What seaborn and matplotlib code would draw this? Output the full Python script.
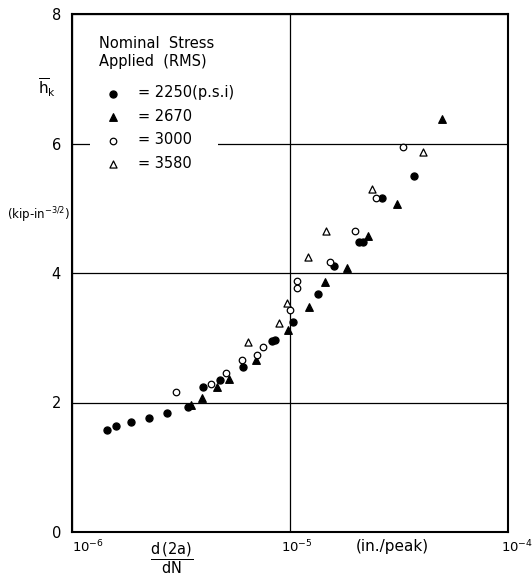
import numpy as np
import pandas as pd
import matplotlib
matplotlib.use("Agg")
import matplotlib.pyplot as plt
import matplotlib.transforms as mtransforms
from matplotlib.patches import Rectangle
import seaborn as sns

# ---------------- data ----------------
stress_labels = ["= 2250(p.s.i)", "= 2670", "= 3000", "= 3580"]
legend_title = "Nominal  Stress\nApplied  (RMS)"

rate_2250 = [1.45e-6, 1.60e-6, 1.86e-6, 2.26e-6, 2.72e-6, 3.39e-6, 4.00e-6, 4.79e-6,
             6.09e-6, 8.27e-6, 8.56e-6, 1.03e-5, 1.34e-5, 1.59e-5, 2.07e-5, 2.16e-5,
             2.64e-5, 3.72e-5]
hk_2250 = [1.575, 1.637, 1.694, 1.756, 1.842, 1.926, 2.235, 2.347,
           2.548, 2.950, 2.965, 3.248, 3.676, 4.113, 4.474, 4.483,
           5.163, 5.498]

rate_2670 = [3.51e-6, 3.94e-6, 4.62e-6, 5.25e-6, 6.98e-6, 9.76e-6, 1.226e-5, 1.447e-5,
             1.82e-5, 2.27e-5, 3.09e-5, 4.96e-5]
hk_2670 = [1.961, 2.077, 2.247, 2.358, 2.652, 3.127, 3.475, 3.861,
           4.077, 4.571, 5.058, 6.374]

rate_3000 = [2.99e-6, 4.32e-6, 5.07e-6, 6.03e-6, 7.03e-6, 7.54e-6, 1.005e-5, 1.08e-5,
             1.08e-5, 1.53e-5, 1.99e-5, 2.48e-5, 3.31e-5]
hk_3000 = [2.158, 2.283, 2.460, 2.664, 2.726, 2.853, 3.421, 3.869,
           3.761, 4.170, 4.656, 5.163, 5.951]

rate_3580 = [6.40e-6, 8.93e-6, 9.69e-6, 1.207e-5, 1.47e-5, 2.38e-5, 4.09e-5]
hk_3580 = [2.939, 3.232, 3.541, 4.244, 4.649, 5.293, 5.873]

x_ticks = [1e-6, 1e-5, 1e-4]
x_ticklabels = [r"$10^{-6}$", r"$10^{-5}$", r"$10^{-4}$"]
y_ticks = [0, 2, 4, 6, 8]
y_ticklabels = ["0", "2", "4", "6", "8"]

# ---------------- build table ----------------
frames = []
for lbl, xs, ys in zip(stress_labels,
                       [rate_2250, rate_2670, rate_3000, rate_3580],
                       [hk_2250, hk_2670, hk_3000, hk_3580]):
    frames.append(pd.DataFrame({"rate": xs, "hk": ys, "stress": lbl}))
df = pd.concat(frames, ignore_index=True)

marker_map = {stress_labels[0]: "o", stress_labels[1]: "^",
              stress_labels[2]: "o", stress_labels[3]: "^"}
face_map = {stress_labels[0]: "black", stress_labels[1]: "black",
            stress_labels[2]: "white", stress_labels[3]: "white"}
size_map = {stress_labels[0]: 26, stress_labels[1]: 30,
            stress_labels[2]: 22, stress_labels[3]: 26}

# ---------------- style ----------------
sns.set_style("white")
plt.rcParams["font.family"] = ["DejaVu Sans"]
plt.rcParams["mathtext.fontset"] = "dejavusans"
plt.rcParams["text.color"] = "black"
plt.rcParams["xtick.color"] = "black"
plt.rcParams["ytick.color"] = "black"
plt.rcParams["axes.labelcolor"] = "black"

W, H = 532, 578
fig = plt.figure(figsize=(W / 100, H / 100), dpi=100)
ax = fig.add_axes([72 / W, 46 / H, 436 / W, 518 / H])

for lbl in stress_labels:
    sub = df[df["stress"] == lbl]
    sns.scatterplot(data=sub, x="rate", y="hk", ax=ax,
                    marker=marker_map[lbl], color=face_map[lbl],
                    edgecolor="black", linewidth=0.9, s=size_map[lbl],
                    label=lbl, zorder=3)

ax.set_xscale("log")
ax.set_xlim(1e-6, 1e-4)
ax.set_ylim(0, 8)
ax.set_xticks(x_ticks)
ax.set_xticklabels(x_ticklabels, fontsize=9.5, color="black")
ax.xaxis.set_minor_locator(matplotlib.ticker.NullLocator())
ax.set_yticks(y_ticks)
ax.set_yticklabels(y_ticklabels, fontsize=10.5, color="black")
ax.tick_params(axis="both", length=0)
ax.tick_params(axis="y", pad=8)
ax.tick_params(axis="x", pad=5)
ax.set_xlabel("")
ax.set_ylabel("")

ax.grid(True, which="major", color="black", linewidth=0.9)
ax.set_axisbelow(True)
for sp in ax.spines.values():
    sp.set_color("black")
    sp.set_linewidth(1.5)

# white patch where the legend interrupts the h=6 gridline
ax.add_patch(Rectangle((0.041, 0.736), 0.294, 0.026, transform=ax.transAxes,
                       facecolor="white", edgecolor="none", zorder=1))

# shift x tick labels slightly to the right, like the reference
for t, off in zip(ax.get_xticklabels(), [16, 7, 9]):
    t.set_transform(t.get_transform() +
                    mtransforms.ScaledTranslation(off / 100, 0, fig.dpi_scale_trans))

# legend (entries) + its heading as text
leg = ax.legend(loc="upper left", bbox_to_anchor=(0.0606, 0.862),
                fontsize=10.5, frameon=False,
                handletextpad=0.71, labelspacing=0.58, borderpad=0.0,
                handlelength=2.0, markerscale=1.0, borderaxespad=0.0)
for t in leg.get_texts():
    t.set_color("black")
fig.text(99 / W, 1 - 36 / H, legend_title, ha="left", va="top",
         fontsize=10.5, linespacing=1.25, color="black")

# axis annotations
fig.text(47 / W, 1 - 88 / H, r"$\overline{\mathrm{h}}_{\mathrm{k}}$",
         ha="center", va="center", fontsize=11, color="black")
fig.text(39 / W, 1 - 215 / H, r"(kip-in$^{-3/2}$)",
         ha="center", va="center", fontsize=8.5, color="black")
fig.text(172 / W, 1 - 558 / H, r"$\dfrac{\mathrm{d\,(2a)}}{\mathrm{dN}}$",
         ha="center", va="center", fontsize=10.5, color="black")
fig.text(392 / W, 1 - 547 / H, "(in./peak)",
         ha="center", va="center", fontsize=11, color="black")

fig.savefig("out.png", dpi=100)
